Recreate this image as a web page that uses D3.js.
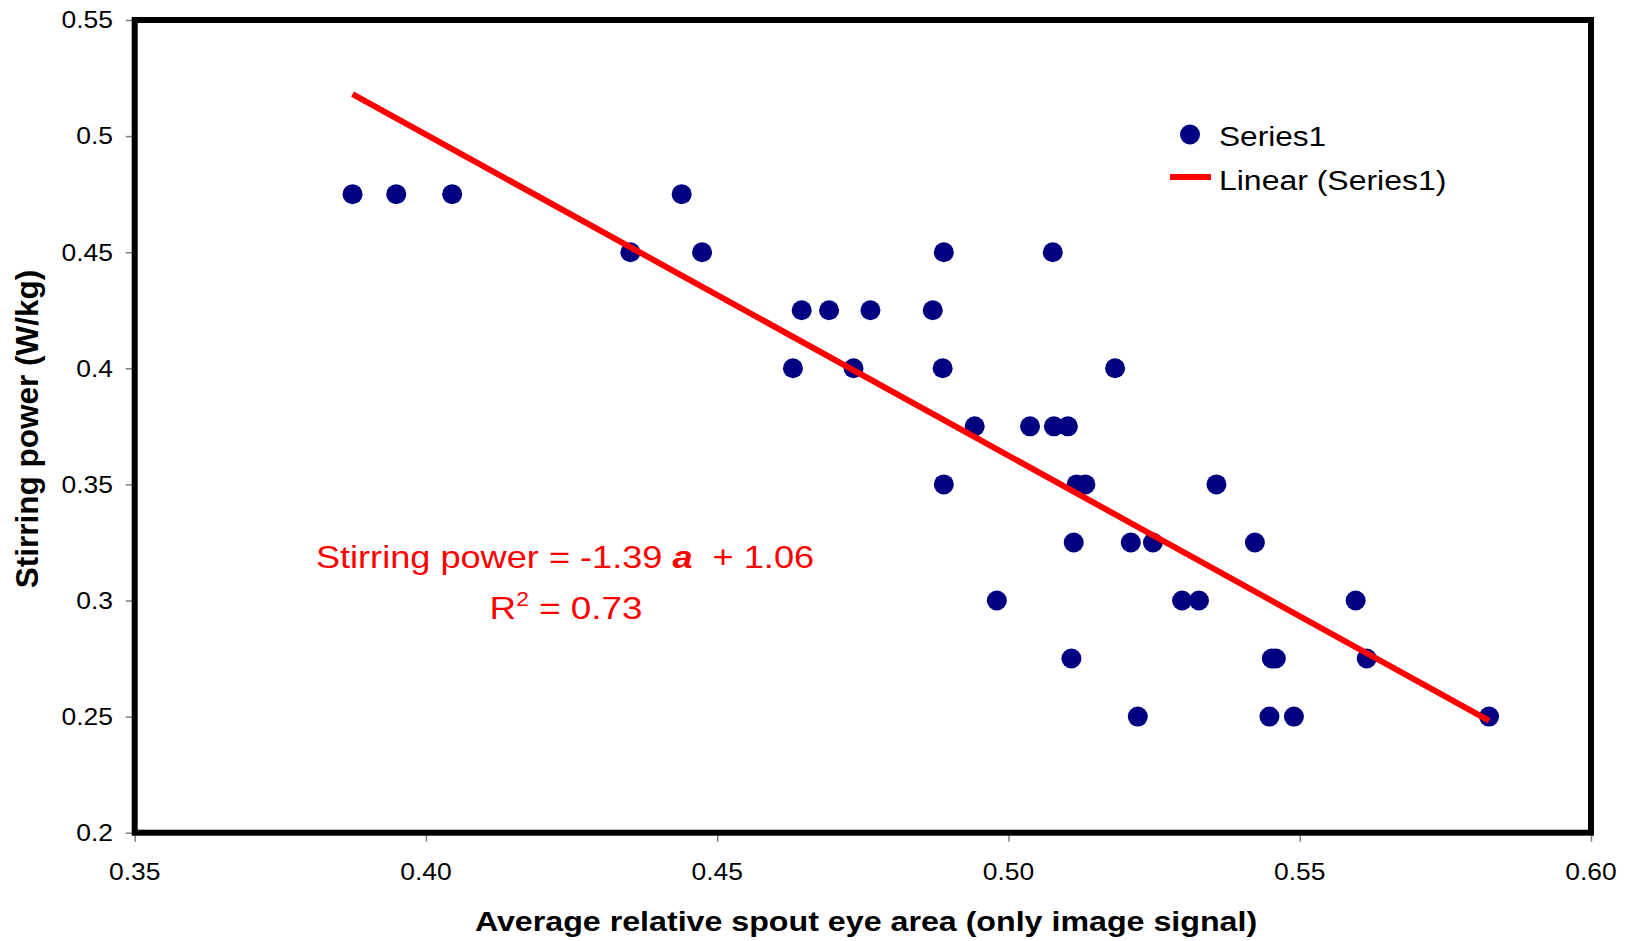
<!DOCTYPE html>
<html><head><meta charset="utf-8">
<script src="https://cdn.jsdelivr.net/npm/d3@7"></script>
<style>html,body{margin:0;padding:0;background:#fff;} svg{display:block;font-family:"Liberation Sans",Arial,sans-serif;}</style>
</head><body>
<svg id="chart" width="1632" height="941"></svg>
<script>
// Data
const areaX = [
  0.3874, 0.3949, 0.4045, 0.4439,
  0.4351, 0.4474, 0.4889, 0.5076,
  0.4645, 0.4692, 0.4763, 0.4870,
  0.4630, 0.4734, 0.4887, 0.5183,
  0.4942, 0.5037, 0.5078, 0.5102,
  0.4889, 0.5117, 0.5132, 0.5357,
  0.5112, 0.5210, 0.5248, 0.5423,
  0.4980, 0.5298, 0.5327, 0.5596,
  0.5108, 0.5452, 0.5459, 0.5615,
  0.5222, 0.5448, 0.5490, 0.5825
];
const powerY = [
  0.475, 0.475, 0.475, 0.475,
  0.45, 0.45, 0.45, 0.45,
  0.425, 0.425, 0.425, 0.425,
  0.4, 0.4, 0.4, 0.4,
  0.375, 0.375, 0.375, 0.375,
  0.35, 0.35, 0.35, 0.35,
  0.325, 0.325, 0.325, 0.325,
  0.3, 0.3, 0.3, 0.3,
  0.275, 0.275, 0.275, 0.275,
  0.25, 0.25, 0.25, 0.25
];
const xTicks = [0.35, 0.40, 0.45, 0.50, 0.55, 0.60];
const xTickLabels = ["0.35", "0.40", "0.45", "0.50", "0.55", "0.60"];
const yTicks = [0.2, 0.25, 0.3, 0.35, 0.4, 0.45, 0.5, 0.55];
const yTickLabels = ["0.2", "0.25", "0.3", "0.35", "0.4", "0.45", "0.5", "0.55"];
const seriesName = "Series1";
const trendName = "Linear (Series1)";
const xTitle = "Average relative spout eye area (only image signal)";
const yTitle = "Stirring power (W/kg)";

const points = areaX.map((x, i) => ({x: x, y: powerY[i]}));

const svg = d3.select("#chart");
const L = 134.7, R = 1591, T = 20, B = 832.7;
const SX = 1.15; // horizontal stretch of the original text
const x = d3.scaleLinear().domain([0.35, 0.60]).range([L, R]);
const y = d3.scaleLinear().domain([0.2, 0.55]).range([B, T]);

// axes (ticks grey, outward)
const gx = svg.append("g").attr("transform", `translate(0,${B})`)
  .call(d3.axisBottom(x).tickValues(xTicks).tickSize(9).tickFormat(""));
const gy = svg.append("g").attr("transform", `translate(${L},0)`)
  .call(d3.axisLeft(y).tickValues(yTicks).tickSize(9).tickFormat(""));
[gx, gy].forEach(g => {
  g.select(".domain").remove();
  g.selectAll(".tick line").attr("stroke", "#808080").attr("stroke-width", 1.5);
});

// tick labels
svg.append("g").selectAll("text").data(xTicks).join("text")
  .attr("transform", d => `translate(${x(d)},880) scale(${SX},1)`)
  .attr("text-anchor", "middle").attr("font-size", 23).attr("fill", "#000")
  .text((d, i) => xTickLabels[i]);
svg.append("g").selectAll("text").data(yTicks).join("text")
  .attr("transform", d => `translate(113,${y(d) + 8.3}) scale(${SX},1)`)
  .attr("text-anchor", "end").attr("font-size", 23).attr("fill", "#000")
  .text((d, i) => yTickLabels[i]);

// plot frame
svg.append("rect").attr("x", L).attr("y", T).attr("width", R - L).attr("height", B - T)
  .attr("fill", "none").attr("stroke", "#000").attr("stroke-width", 6);

// points
svg.append("g").selectAll("circle").data(points).join("circle")
  .attr("cx", d => x(d.x)).attr("cy", d => y(d.y)).attr("r", 10).attr("fill", "#000080");

// least-squares trend line
const mx = d3.mean(areaX), my = d3.mean(powerY);
const sxy = d3.sum(points, p => (p.x - mx) * (p.y - my));
const sxx = d3.sum(points, p => (p.x - mx) ** 2);
const slope = sxy / sxx, icpt = my - slope * mx;
const [x0, x1] = d3.extent(areaX);
svg.append("line")
  .attr("x1", x(x0)).attr("y1", y(slope * x0 + icpt))
  .attr("x2", x(x1)).attr("y2", y(slope * x1 + icpt))
  .attr("stroke", "#ff0000").attr("stroke-width", 6);

// equation
const eq = svg.append("text").attr("transform", `translate(565,568) scale(1.13,1)`)
  .attr("text-anchor", "middle").attr("font-size", 32).attr("fill", "#ff0000");
eq.append("tspan").text("Stirring power = -1.39 ");
eq.append("tspan").attr("font-weight", "bold").attr("font-style", "italic").text("a");
eq.append("tspan").text("  + 1.06").attr("xml:space", "preserve");
const r2 = svg.append("text").attr("transform", `translate(566,619) scale(${SX},1)`)
  .attr("text-anchor", "middle").attr("font-size", 32).attr("fill", "#ff0000");
r2.append("tspan").text("R");
r2.append("tspan").attr("font-size", 20).attr("dy", -13).text("2");
r2.append("tspan").attr("dy", 13).text(" = 0.73");

// legend
svg.append("circle").attr("cx", 1190).attr("cy", 134.5).attr("r", 10).attr("fill", "#000080");
svg.append("text").attr("transform", `translate(1219,146) scale(${SX},1)`)
  .attr("font-size", 27.5).attr("fill", "#000").text(seriesName);
svg.append("line").attr("x1", 1170).attr("x2", 1211).attr("y1", 177).attr("y2", 177)
  .attr("stroke", "#ff0000").attr("stroke-width", 6);
svg.append("text").attr("transform", `translate(1219,189.5) scale(${SX},1)`)
  .attr("font-size", 27.8).attr("fill", "#000").text(trendName);

// axis titles
svg.append("text").attr("transform", `translate(866,931) scale(${SX},1)`)
  .attr("text-anchor", "middle").attr("font-size", 28).attr("font-weight", "bold")
  .attr("fill", "#000").text(xTitle);
svg.append("text").attr("transform", `translate(38,429) rotate(-90)`)
  .attr("text-anchor", "middle").attr("font-size", 31.5).attr("font-weight", "bold")
  .attr("fill", "#000").text(yTitle);
</script>
</body></html>
